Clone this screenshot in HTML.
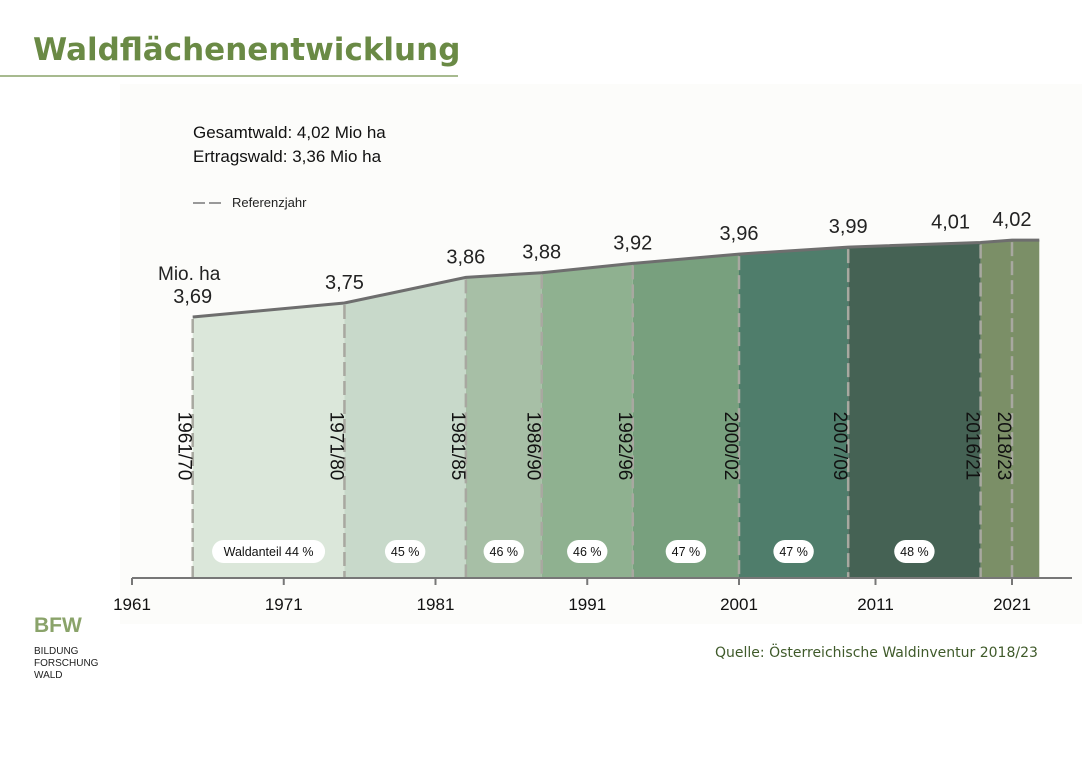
<!DOCTYPE html>
<html><head><meta charset="utf-8"><style>
body{margin:0;width:1086px;height:760px;background:#fff;overflow:hidden;font-family:"Liberation Sans",sans-serif}
svg{position:absolute;left:0;top:0}
</style></head><body>
<svg width="1086" height="760" id="c">
<rect x="120" y="84" width="962" height="540" fill="#fcfcfa"/>
<text x="33" y="60" font-size="31" font-weight="bold" fill="#6a8a45" font-family="DejaVu Sans, sans-serif">Waldflächenentwicklung</text>
<line x1="0" y1="76" x2="458" y2="76" stroke="#8aa36a" stroke-width="1.5"/>
<text x="193" y="138" font-size="17" fill="#111">Gesamtwald: 4,02 Mio ha</text>
<text x="193" y="162" font-size="17" fill="#111">Ertragswald:  3,36 Mio ha</text>
<line x1="193" y1="203" x2="225" y2="203" stroke="#999" stroke-width="2" stroke-dasharray="12,4"/>
<text x="232" y="207" font-size="13" fill="#222">Referenzjahr</text>
<text x="158" y="280" font-size="19" fill="#222">Mio. ha</text>
<g id="plot"></g>
<text x="34" y="632" font-size="21" font-weight="bold" fill="#8aa36a">BFW</text>
<text x="34" y="654" font-size="10" fill="#222"><tspan x="34">BILDUNG</tspan><tspan x="34" dy="12">FORSCHUNG</tspan><tspan x="34" dy="12">WALD</tspan></text>
<text x="715" y="657" font-size="14" fill="#3f5a2a" font-family="DejaVu Sans, sans-serif">Quelle: Österreichische Waldinventur 2018/23</text>
</svg>
<script>
const years=[1965,1975,1983,1988,1994,2001,2009,2018.7,2021,2023];
const values=[3.69,3.75,3.86,3.88,3.92,3.96,3.99,4.01,4.02,4.02];
const valueLabels=["3,69","3,75","3,86","3,88","3,92","3,96","3,99","4,01","4,02"];
const periods=["1961/70","1971/80","1981/85","1986/90","1992/96","2000/02","2007/09","2016/21","2018/23"];
const shares=["Waldanteil 44 %","45 %","46 %","46 %","47 %","47 %","48 %","",""];
const tickYears=[1961,1971,1981,1991,2001,2011,2021];
const colors=["#dbe7da","#c8d9ca","#a7bfa6","#8fb190","#78a07e","#4f7d6b","#456254","#7b8f67","#7b8f67"];
const NS="http://www.w3.org/2000/svg";
function x(y){return y<=2001?132+(y-1961)*(739-132)/40:739+(y-2001)*(1012-739)/20;}
function yv(v){return 317-(v-3.69)*233;}
const base=578,g=document.getElementById('plot');
function mk(t,a){const e=document.createElementNS(NS,t);for(const k in a)e.setAttribute(k,a[k]);g.appendChild(e);return e;}
for(let i=0;i<years.length-1;i++){
 const x0=x(years[i]),x1=x(years[i+1]);
 const p=mk('polygon',{points:`${x0},${base} ${x0},${yv(values[i])} ${x1},${yv(values[i+1])} ${x1},${base}`,fill:colors[i]});
 
 
}
let pts=years.map((y,i)=>x(y)+','+yv(values[i])).join(' ');
const ln=mk('polyline',{points:pts,fill:'none',stroke:'#6e6e6e','stroke-width':3});


for(let i=0;i<years.length-1;i++){
 const xx=x(years[i]);
 const d=mk('line',{x1:xx,y1:yv(values[i])+2,x2:xx,y2:base,stroke:'#a8a8a0','stroke-width':2.5,'stroke-dasharray':'14,5'});
 
 
 const t=mk('text',{x:0,y:0,'font-size':19,fill:'#111','text-anchor':'middle',transform:`translate(${xx-14},446) rotate(90)`});
 t.textContent=periods[i];
 
 
 const v=mk('text',{x:xx+(i==7?-30:0),y:yv(values[i])-14,'font-size':20,fill:'#222','text-anchor':'middle'});
 v.textContent=valueLabels[i];
 
 
 if(shares[i]){
  const cx=(xx+x(years[i+1]))/2,w=shares[i].length*6.6+14;
  const r=mk('rect',{x:cx-w/2,y:540,width:w,height:23,rx:11.5,fill:'#fff'});
  
  
  const s=mk('text',{x:cx,y:556,'font-size':12.5,fill:'#111','text-anchor':'middle'});
  s.textContent=shares[i];
  
  
 }
}
const ax=mk('line',{x1:132,y1:base,x2:1072,y2:base,stroke:'#777','stroke-width':2});


tickYears.forEach(ty=>{
 const tk=mk('line',{x1:x(ty),y1:base,x2:x(ty),y2:base+7,stroke:'#777','stroke-width':2});
 
 
 const tl=mk('text',{x:x(ty),y:base+32,'font-size':17,fill:'#111','text-anchor':'middle'});
 tl.textContent=ty;
 
 
});
</script>
</body></html>
